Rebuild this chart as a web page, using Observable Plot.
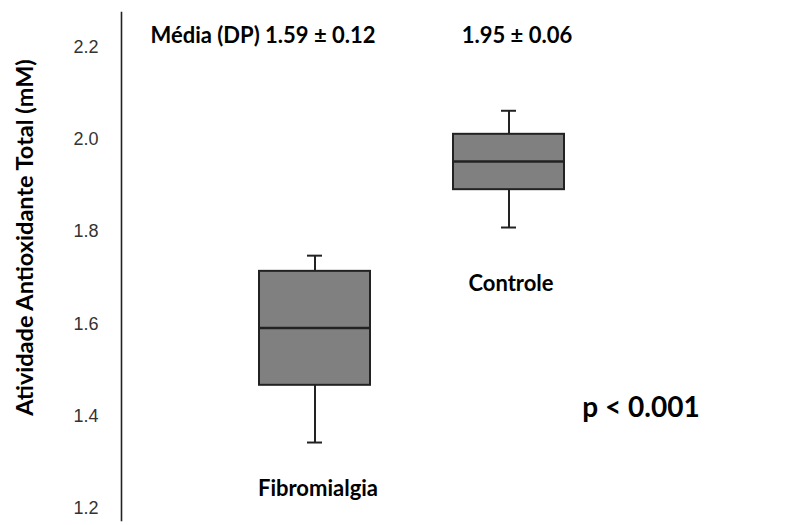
<!DOCTYPE html>
<html><head><meta charset="utf-8">
<script src="https://cdn.jsdelivr.net/npm/d3@7"></script>
<script src="https://cdn.jsdelivr.net/npm/@observablehq/plot@0.6"></script>
<style>body{margin:0;background:#fff}</style>
</head><body><div id="chart"></div>
<script>
const groups = ["Fibromialgia", "Controle"];
const whiskerLow = [1.343, 1.809];
const q1 = [1.467, 1.891];
const median = [1.591, 1.952];
const q3 = [1.714, 2.011];
const whiskerHigh = [1.748, 2.062];
const meanSd = ["Média (DP) 1.59 ± 0.12", "1.95 ± 0.06"];
const yTicks = [1.2, 1.4, 1.6, 1.8, 2.0, 2.2];
const pLabel = "p < 0.001";
const yLabel = "Atividade Antioxidante Total (mM)";

const rows = groups.map((g, i) => ({group: g, lo: whiskerLow[i], q1: q1[i], med: median[i], q3: q3[i], hi: whiskerHigh[i], stat: meanSd[i]}));

const bold = {fontFamily: "Lato", fontWeight: "bold", fill: "#000"};

const chart = Plot.plot({
  width: 801, height: 525,
  marginLeft: 121, marginRight: 100, marginTop: 12, marginBottom: 5,
  style: {background: "#fff"},
  x: {type: "band", domain: groups, paddingInner: 0.429, paddingOuter: 0.706, axis: null},
  y: {domain: [1.174, 2.275], axis: null},
  marks: [
    Plot.frame({anchor: "left", stroke: "#222", strokeWidth: 1.6}),
    Plot.axisY({ticks: yTicks, tickSize: 0, tickPadding: 23, tickFormat: ".1f", label: null,
      fontFamily: "Liberation Sans", fontSize: 18, fill: "#333"}),
    Plot.ruleX(rows, {x: "group", y1: "lo", y2: "hi", stroke: "#222", strokeWidth: 2}),
    Plot.tickY(rows, {x: "group", y: "lo", insetLeft: 48, insetRight: 48, stroke: "#222", strokeWidth: 2}),
    Plot.tickY(rows, {x: "group", y: "hi", insetLeft: 48, insetRight: 48, stroke: "#222", strokeWidth: 2}),
    Plot.barY(rows, {x: "group", y1: "q1", y2: "q3", fill: "#808080", stroke: "#222", strokeWidth: 2}),
    Plot.tickY(rows, {x: "group", y: "med", stroke: "#222", strokeWidth: 2.5}),
    Plot.text([rows[0]], {x: "group", y: 2.225, text: "stat", dx: -52, fontSize: 22, ...bold}),
    Plot.text([rows[1]], {x: "group", y: 2.225, text: "stat", dx: 8, fontSize: 22, ...bold}),
    Plot.text([rows[0]], {x: "group", y: 1.243, text: "group", dx: 3, fontSize: 22, ...bold}),
    Plot.text([rows[1]], {x: "group", y: 1.6875, text: "group", dx: 2, fontSize: 22, ...bold}),
    Plot.text([pLabel], {x: () => groups[1], y: 1.417, text: d => d, dx: 132, fontSize: 28, ...bold}),
    Plot.text([yLabel], {frameAnchor: "left", textAnchor: "middle", text: d => d, rotate: -90, dx: -96, dy: -29, fontSize: 23.5, ...bold})
  ]
});
document.getElementById("chart").appendChild(chart);
</script>
</body></html>
